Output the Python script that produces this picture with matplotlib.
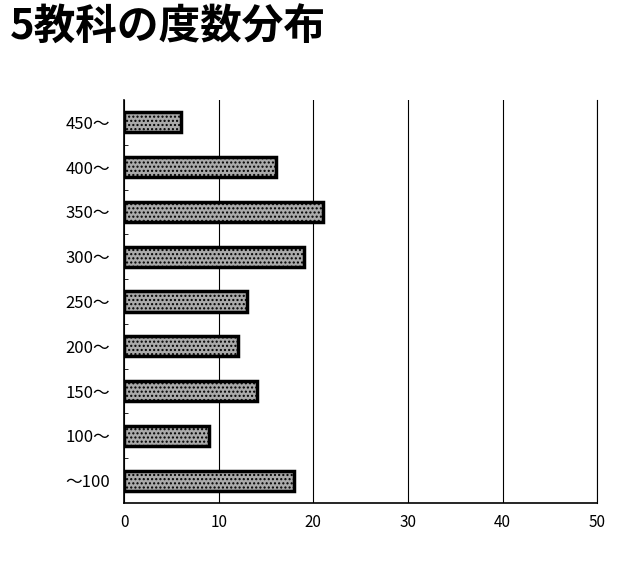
import matplotlib.pyplot as plt
import numpy as np

plt.rcParams['font.family'] = ['Noto Sans CJK JP', 'DejaVu Sans']

# score bands (bottom to top) and counts
bands = ['～100', '100～', '150～', '200～', '250～', '300～', '350～', '400～', '450～']
counts = [18, 9, 14, 12, 13, 19, 21, 16, 6]

fig = plt.figure(figsize=(6.4, 5.62), dpi=100)
ax = fig.add_axes([0.194, 0.105, 0.739, 0.717])

y = np.arange(len(bands))
ax.barh(y, counts, height=0.45, color='#aaaaaa', edgecolor='black', linewidth=2.5,
        hatch='....', zorder=3)

ax.set_xlim(0, 50)
ax.set_ylim(-0.5, len(bands) - 0.5)
ax.set_xticks(range(0, 51, 10))
ax.set_yticks(y)
ax.set_yticklabels(bands, fontsize=12)
ax.tick_params(axis='x', length=0, labelsize=11, pad=8)
ax.tick_params(axis='y', length=0, pad=10)
ax.set_yticks(y[:-1] + 0.5, minor=True)
ax.tick_params(axis='y', which='minor', direction='in', length=3, color='black')

ax.grid(axis='x', color='black', linewidth=0.8, zorder=0)
ax.spines['top'].set_visible(False)
ax.spines['right'].set_linewidth(0.8)
ax.spines['left'].set_linewidth(1.2)
ax.spines['bottom'].set_linewidth(1.2)

fig.text(0.015, 0.95, '5教科の度数分布', fontsize=30, fontweight='bold', va='center')

fig.savefig('out.png', dpi=100)
